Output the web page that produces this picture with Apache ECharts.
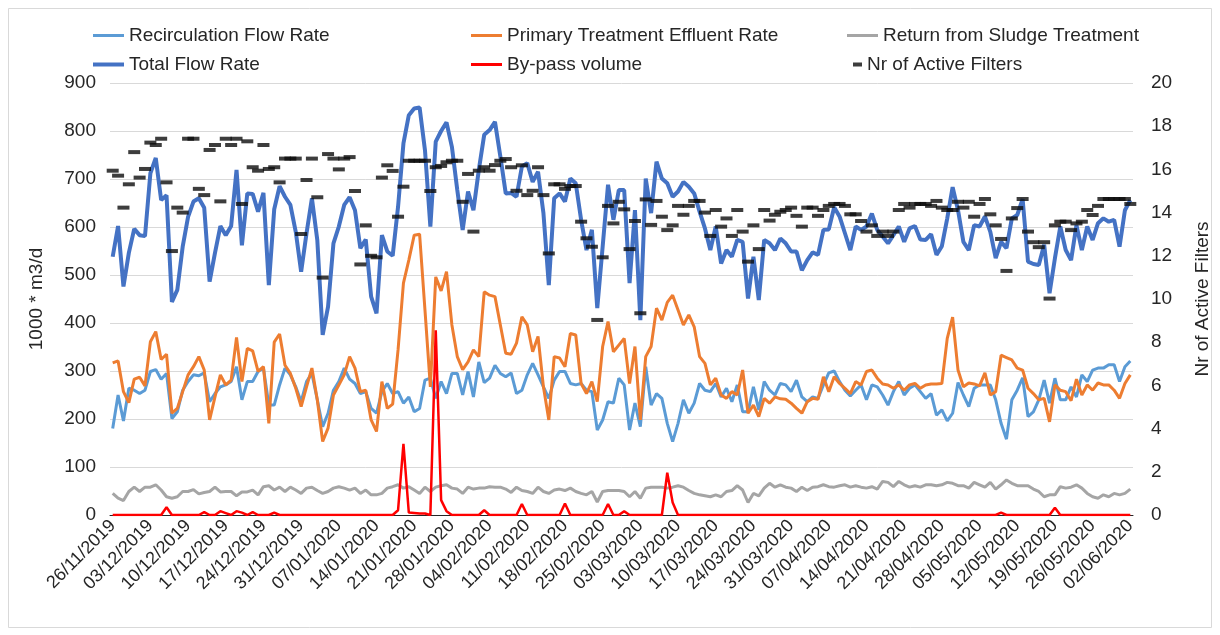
<!DOCTYPE html>
<html>
<head>
<meta charset="utf-8">
<script src="https://cdn.jsdelivr.net/npm/echarts@6/dist/echarts.min.js"></script>
<style>
  html, body { margin: 0; padding: 0; background: #fff; }
  #chart { width: 1220px; height: 635px; }
</style>
</head>
<body>
<div id="chart"></div>
<script>
// daily categories 26/11/2019 .. 02/06/2020, labelled every 7th day
const dayCount = 190;
const categories = [];
for (let i = 0; i < dayCount; i++) {
  const d = new Date(Date.UTC(2019, 10, 26 + i));
  const dd = String(d.getUTCDate()).padStart(2, '0');
  const mm = String(d.getUTCMonth() + 1).padStart(2, '0');
  categories.push(dd + '/' + mm + '/' + d.getUTCFullYear());
}

const leftTicks = [0, 100, 200, 300, 400, 500, 600, 700, 800, 900];
const rightTicks = [0, 2, 4, 6, 8, 10, 12, 14, 16, 18, 20];

const recirculation = [180,250,196,264,260,253,260,299,303,283,295,201,215,260,278,292,290,296,236,253,
  267,271,278,309,240,278,278,299,306,229,229,271,306,292,267,236,278,295,240,184,
  212,260,278,306,283,274,253,257,222,212,257,274,253,257,233,246,215,222,281,285,
  243,278,253,295,295,250,299,246,319,276,285,312,295,288,296,253,260,292,316,292,
  267,243,281,299,299,274,271,274,260,257,177,198,236,233,285,271,177,233,184,309,
  229,253,243,191,153,191,240,212,233,274,260,257,274,246,264,236,271,215,215,267,
  219,278,260,250,274,271,257,281,246,236,246,243,271,296,300,278,260,248,260,271,
  240,271,267,250,229,257,278,250,264,271,257,243,253,208,219,196,212,276,250,226,
  264,271,271,271,240,191,158,240,260,286,205,215,240,281,233,285,240,240,267,246,
  292,278,302,306,306,313,313,278,309,321];

const primaryEffluent = [317,321,257,234,283,287,269,361,382,324,335,212,222,257,292,309,330,302,198,246,
  292,271,281,370,278,347,342,299,309,191,360,377,312,295,264,226,267,306,240,153,
  181,250,271,292,330,306,257,260,198,174,278,222,231,344,483,531,583,585,427,267,
  496,467,507,396,330,303,319,344,330,465,458,455,396,337,335,358,413,396,340,372,
  267,198,330,327,309,378,375,274,253,278,236,351,403,340,354,368,274,351,198,330,
  351,431,406,443,458,427,396,417,392,330,316,271,285,250,243,257,250,302,212,229,
  205,243,233,246,242,241,233,222,212,236,243,241,288,257,288,274,264,253,278,271,
  299,302,285,273,271,264,271,260,271,274,264,271,273,273,274,368,412,302,267,275,
  273,269,296,250,257,333,328,323,306,302,264,253,240,243,194,271,260,257,238,283,
  250,271,260,275,271,271,260,243,274,292];

const sludgeReturn = [45,35,30,49,58,49,58,58,63,52,38,35,38,49,49,53,44,47,49,58,
  48,49,49,40,48,48,52,42,59,61,52,58,49,58,52,45,56,58,51,45,
  49,56,59,56,52,56,45,52,42,42,45,56,59,63,56,59,52,45,58,49,
  58,61,63,56,54,45,58,54,56,56,59,58,58,54,47,58,51,49,45,58,
  49,45,52,54,51,56,49,45,42,49,27,49,51,51,51,49,38,49,35,56,
  58,58,58,56,58,61,58,51,45,42,40,38,42,38,49,51,61,52,26,45,
  40,56,66,58,63,58,56,49,58,51,58,59,63,59,58,61,63,58,61,58,
  56,59,54,70,68,59,70,63,58,61,58,63,63,61,63,68,66,61,61,56,
  68,63,58,68,54,63,73,66,61,61,61,54,49,38,42,42,59,56,58,63,
  56,45,38,35,42,38,45,42,45,54];

const totalFlow = [538,602,476,546,596,583,581,712,744,656,666,444,469,559,621,653,660,640,486,546,
  602,583,602,719,562,670,669,632,671,479,637,685,663,646,590,507,587,660,573,375,
  434,566,601,646,662,635,556,574,455,420,583,549,540,642,774,833,847,849,760,601,
  778,800,818,767,677,594,674,635,719,792,802,819,747,670,671,663,726,733,694,715,
  629,479,660,670,653,701,691,615,552,594,431,559,688,615,677,677,483,635,406,701,
  629,736,701,691,663,674,694,684,670,632,597,552,601,524,552,538,573,569,451,538,
  448,573,566,552,576,566,549,549,510,531,547,542,594,595,641,622,587,552,601,594,
  601,628,594,580,566,583,601,569,597,602,574,573,585,542,560,618,683,635,569,552,
  604,601,622,590,535,569,556,618,625,658,528,523,521,563,462,535,601,552,531,604,
  552,601,573,608,618,611,615,559,635,656];

const bypassVolume = [0,0,0,0,0,0,0,0,0,0,16,0,0,0,0,0,0,6,0,0,
  8,4,0,8,5,0,6,0,0,0,5,0,0,0,0,0,0,0,0,0,
  0,0,0,0,0,0,0,0,0,0,0,0,0,10,148,5,4,3,3,0,
  385,31,8,0,0,0,0,0,0,10,0,0,0,0,0,0,23,0,0,0,
  0,0,0,0,24,0,0,0,0,0,0,0,23,0,0,8,0,0,0,0,
  0,0,0,88,26,0,0,0,0,0,0,0,0,0,0,0,0,0,0,0,
  0,0,0,0,0,0,0,0,0,0,0,0,0,0,0,0,0,0,0,0,
  0,0,0,0,0,0,0,0,0,0,0,0,0,0,0,0,0,0,0,0,
  0,0,0,0,0,5,0,0,0,0,0,0,0,0,0,15,0,0,0,0,
  0,0,0,0,0,0,0,0,0,0];

const activeFilters = [15.94,15.71,14.23,15.31,16.8,15.62,16.02,17.24,17.13,17.42,15.4,12.22,14.23,14.0,17.42,17.42,15.1,14.81,16.9,17.13,
  14.52,17.42,17.13,17.42,14.4,17.3,16.1,15.94,17.13,16.02,16.1,15.4,16.5,16.5,16.5,13.01,15.51,16.5,14.71,10.99,
  16.71,16.5,16.0,16.5,16.57,15.0,11.6,13.41,12.0,11.93,15.62,16.19,15.93,13.81,15.2,16.4,16.4,16.4,16.4,15.0,
  16.1,16.16,16.33,16.4,16.4,14.5,15.79,13.12,15.94,16.1,15.94,16.2,16.4,16.48,16.1,15.01,16.19,14.81,15.01,16.1,
  14.81,12.11,15.31,15.31,15.1,15.23,15.23,13.58,12.81,12.42,9.03,11.93,14.31,13.5,14.5,14.15,12.31,13.61,9.34,14.61,
  13.43,14.54,13.81,13.19,13.41,14.31,13.9,14.31,14.54,14.54,14.0,12.92,14.12,13.35,13.73,12.92,14.12,13.12,11.73,13.41,
  12.31,14.12,13.63,13.9,14.04,14.12,14.23,13.85,13.35,14.23,14.23,13.85,14.12,14.31,14.4,14.4,14.31,13.92,13.92,13.61,
  13.12,13.41,12.92,13.12,12.92,13.12,14.12,14.4,14.23,14.4,14.4,14.4,14.31,14.54,14.23,14.12,14.12,14.5,14.23,14.5,
  13.81,14.4,14.63,13.92,13.41,12.78,11.3,13.73,14.21,14.63,13.12,12.63,12.4,12.63,10.02,13.41,13.58,13.58,13.19,13.5,
  13.58,14.12,13.89,14.31,14.63,14.63,14.63,14.63,14.63,14.4];

const font = '"Liberation Sans", Arial, sans-serif';
const textColor = '#262626';

const chart = echarts.init(document.getElementById('chart'), null, { renderer: 'canvas' });

const legendItem = (name, left, top, opts) => Object.assign({
  data: [name],
  left: left,
  top: top,
  icon: 'rect',
  itemWidth: 31,
  itemHeight: 3,
  selectedMode: false,
  textStyle: { fontFamily: font, fontSize: 19, color: textColor }
}, opts || {});

const option = {
  animation: false,
  backgroundColor: '#fff',
  textStyle: { fontFamily: font },
  graphic: [{
    type: 'rect',
    shape: { x: 8.5, y: 8.5, width: 1203, height: 619 },
    style: { fill: 'none', stroke: '#d9d9d9', lineWidth: 1 },
    silent: true
  }],
  legend: [
    legendItem('Recirculation Flow Rate', 88, 21),
    legendItem('Primary Treatment Effluent Rate', 466, 21),
    legendItem('Return from Sludge Treatment', 842, 21),
    legendItem('Total Flow Rate', 88, 50, { itemHeight: 4 }),
    legendItem('By-pass volume', 466, 50),
    legendItem('Nr of Active Filters', 848, 50, { itemWidth: 9, itemHeight: 4 })
  ],
  grid: { left: 110, right: 86, top: 83, bottom: 120 },
  xAxis: {
    type: 'category',
    data: categories,
    boundaryGap: true,
    axisLine: { lineStyle: { color: '#262626', width: 1 } },
    axisTick: { interval: 0, length: 4, lineStyle: { color: '#262626' } },
    axisLabel: {
      interval: 6,
      rotate: 45,
      margin: 8,
      fontFamily: font,
      fontSize: 18,
      color: textColor
    },
    splitLine: { show: false }
  },
  yAxis: [
    {
      type: 'value',
      min: leftTicks[0],
      max: leftTicks[leftTicks.length - 1],
      interval: 100,
      name: '1000 * m3/d',
      nameLocation: 'middle',
      nameGap: 64,
      nameTextStyle: { fontFamily: font, fontSize: 19, color: textColor },
      axisLine: { show: false },
      axisTick: { show: false },
      axisLabel: { fontFamily: font, fontSize: 19, color: textColor, margin: 14 },
      splitLine: { lineStyle: { color: '#d9d9d9', width: 1 } }
    },
    {
      type: 'value',
      min: rightTicks[0],
      max: rightTicks[rightTicks.length - 1],
      interval: 2,
      name: 'Nr of Active Filters',
      nameLocation: 'middle',
      nameGap: 60,
      nameTextStyle: { fontFamily: font, fontSize: 19, color: textColor },
      axisLine: { show: false },
      axisTick: { show: false },
      axisLabel: { fontFamily: font, fontSize: 19, color: textColor, margin: 18 },
      splitLine: { show: false }
    }
  ],
  series: [
    {
      name: 'Recirculation Flow Rate',
      type: 'line',
      data: recirculation,
      showSymbol: false,
      lineStyle: { color: '#5B9BD5', width: 3 },
      itemStyle: { color: '#5B9BD5' },
      z: 2
    },
    {
      name: 'Primary Treatment Effluent Rate',
      type: 'line',
      data: primaryEffluent,
      showSymbol: false,
      lineStyle: { color: '#ED7D31', width: 3 },
      itemStyle: { color: '#ED7D31' },
      z: 3
    },
    {
      name: 'Return from Sludge Treatment',
      type: 'line',
      data: sludgeReturn,
      showSymbol: false,
      lineStyle: { color: '#A5A5A5', width: 3 },
      itemStyle: { color: '#A5A5A5' },
      z: 3
    },
    {
      name: 'Total Flow Rate',
      type: 'line',
      data: totalFlow,
      showSymbol: false,
      lineStyle: { color: '#4472C4', width: 4 },
      itemStyle: { color: '#4472C4' },
      z: 4
    },
    {
      name: 'By-pass volume',
      type: 'line',
      data: bypassVolume,
      showSymbol: false,
      lineStyle: { color: '#FF0000', width: 2.5 },
      itemStyle: { color: '#FF0000' },
      z: 5
    },
    {
      name: 'Nr of Active Filters',
      type: 'scatter',
      yAxisIndex: 1,
      data: activeFilters,
      symbol: 'rect',
      symbolSize: [12, 4],
      itemStyle: { color: '#0d0d0d' },
      z: 6
    }
  ]
};

chart.setOption(option);
</script>
</body>
</html>
